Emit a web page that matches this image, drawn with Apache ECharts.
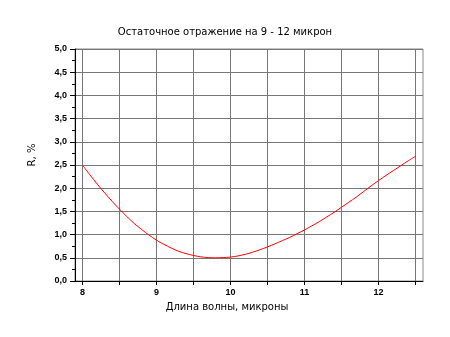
<!DOCTYPE html>
<html><head><meta charset="utf-8">
<script src="https://cdn.jsdelivr.net/npm/echarts@6/dist/echarts.min.js"></script>
<style>html,body{margin:0;padding:0;background:#fff}#c{width:450px;height:337px}</style>
</head><body><div id="c"></div>
<script>
const title = 'Остаточное отражение на 9 - 12 микрон';
const xName = 'Длина волны, микроны';
const yName = 'R, %';
const wavelength = [8.0,8.1,8.2,8.3,8.4,8.5,8.6,8.7,8.8,8.9,9.0,9.1,9.2,9.3,9.4,9.5,9.6,9.7,9.8,9.9,10.0,10.1,10.2,10.3,10.4,10.5,10.6,10.7,10.8,10.9,11.0,11.1,11.2,11.3,11.4,11.5,11.6,11.7,11.8,11.9,12.0,12.1,12.2,12.3,12.4,12.5];
const reflect = [2.50,2.29,2.09,1.90,1.72,1.55,1.39,1.24,1.11,0.99,0.88,0.79,0.71,0.64,0.59,0.55,0.52,0.505,0.50,0.505,0.515,0.54,0.575,0.62,0.675,0.735,0.80,0.87,0.94,1.02,1.10,1.19,1.28,1.38,1.48,1.59,1.70,1.81,1.93,2.05,2.165,2.275,2.38,2.485,2.59,2.69];
const xTicks = [8,8.5,9,9.5,10,10.5,11,11.5,12,12.5];
const xLabels = [8,9,10,11,12];

const chart = echarts.init(document.getElementById('c'), null, {renderer:'canvas'});
const font = '"DejaVu Sans", sans-serif';
const lfont = 'Arial, "Liberation Sans", sans-serif';
chart.setOption({
  animation:false,
  title:{text:title,left:'center',top:22,textStyle:{fontSize:10,fontWeight:'normal',color:'#000',fontFamily:font}},
  grid:{left:75,right:27,top:49,bottom:56,show:true,borderColor:'#888',borderWidth:1,containLabel:false},
  xAxis:{type:'value',min:7.9,max:12.6,
    name:xName,nameLocation:'middle',nameGap:21,
    nameTextStyle:{fontSize:10,color:'#000',fontFamily:font,padding:[0,44,0,0]},
    axisLine:{show:true,onZero:false,lineStyle:{color:'#000',width:1}},
    axisTick:{show:true,length:4,lineStyle:{color:'#000'},customValues:xTicks},
    axisLabel:{customValues:xLabels,fontSize:9,fontWeight:'bold',color:'#000',fontFamily:lfont,margin:7},
    splitLine:{show:true,lineStyle:{color:'#777',width:1}}
  },
  yAxis:{type:'value',min:0,max:5,interval:0.5,
    name:yName,nameLocation:'middle',nameGap:38,nameRotate:90,
    nameTextStyle:{fontSize:10,color:'#000',fontFamily:font,padding:[0,0,0,20]},
    axisLine:{show:true,onZero:false,lineStyle:{color:'#000',width:1}},
    axisTick:{show:true,length:5,lineStyle:{color:'#000'}},
    minorTick:{show:true,splitNumber:2,length:3,lineStyle:{color:'#000'}},
    axisLabel:{fontSize:9,fontWeight:'bold',color:'#000',fontFamily:lfont,margin:8,
      formatter:v=>v.toFixed(1).replace('.',',')},
    splitLine:{show:true,lineStyle:{color:'#777',width:1}}
  },
  series:[{type:'line',data:wavelength.map((x,i)=>[x,reflect[i]]),smooth:0.3,showSymbol:false,
    lineStyle:{color:'#ff0000',width:1}}]
});
</script></body></html>
